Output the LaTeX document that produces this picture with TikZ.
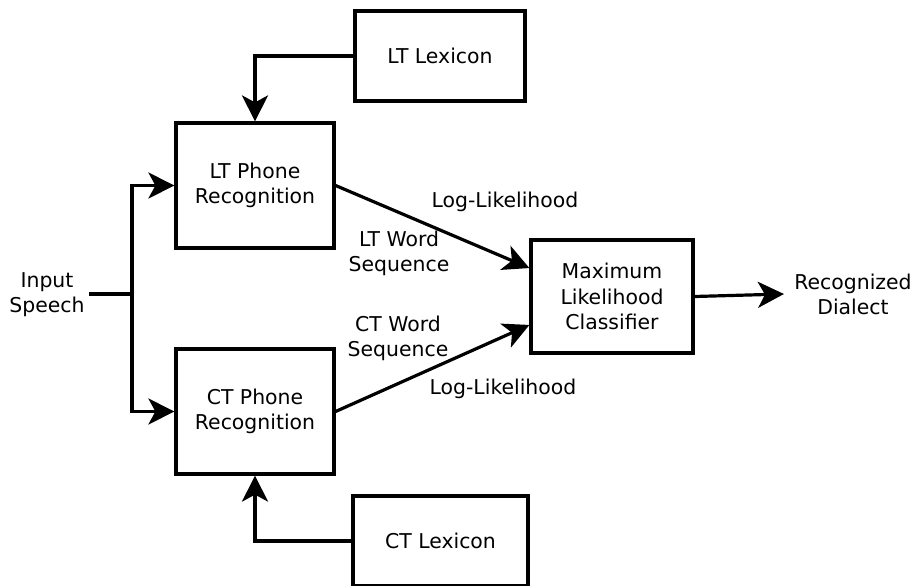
\documentclass[tikz,border=0pt]{standalone}
\usepackage{fontspec}
\setmainfont{DejaVu Sans}
\usetikzlibrary{
    positioning,           % Relative positioning
    arrows.meta            % Modern arrow tips
}

\tikzset{
    block/.style={draw, line width=1.6pt, align=center, inner sep=0pt},
    txt/.style={align=center, inner sep=2pt},
    conn/.style={line width=1.6pt, -{Stealth[length=13pt,width=13pt,inset=3.5pt]}},
    wire/.style={line width=1.6pt}
}

\begin{document}
\begin{tikzpicture}[x=0.5pt,y=-0.5pt,font=\fontsize{10.2}{12.6}\selectfont]
    \clip (0,0) rectangle (912,585);
    % blocks
    \node[block, minimum width=85pt, minimum height=45pt] (ltlex) at (440,56) {LT Lexicon};
    \node[block, minimum width=79pt, minimum height=62.5pt] (ltphone) at (255,185.5) {LT Phone\\Recognition};
    \node[block, minimum width=79pt, minimum height=62.5pt] (ctphone) at (255,411.5) {CT Phone\\Recognition};
    \node[block, minimum width=87.5pt, minimum height=45pt] (ctlex) at (440.5,541) {CT Lexicon};
    \node[block, minimum width=81pt, minimum height=56.5pt] (clf) at (612,296.5) {Maximum\\Likelihood\\Classifier};
    % texts
    \node[txt] (speech) at (47,295) {Input\\Speech};
    \node[txt, inner sep=5pt] (dialect) at (853,294) {Recognized\\Dialect};
    \node[txt] (ltll) at (505,202) {Log-Likelihood};
    \node[txt] (ltseq) at (399,253) {LT Word\\Sequence};
    \node[txt] (ctseq) at (398,338) {CT Word\\Sequence};
    \node[txt] (ctll) at (503,389) {Log-Likelihood};
    \coordinate (split) at (132,294);
    % connectors
    \draw[wire] (speech.east |- split) -- (split);
    \draw[conn] (split) |- (ltphone.west);
    \draw[conn] (split) |- (ctphone.west);
    \draw[conn] (ltlex.west) -| (ltphone.north);
    \draw[conn] (ctlex.west) -| (ctphone.south);
    \draw[conn] (ltphone.east) -- (clf.161);
    \draw[conn] (ctphone.east) -- (clf.199);
    \draw[conn] (clf.east) -- (dialect.west);
\end{tikzpicture}
\end{document}
